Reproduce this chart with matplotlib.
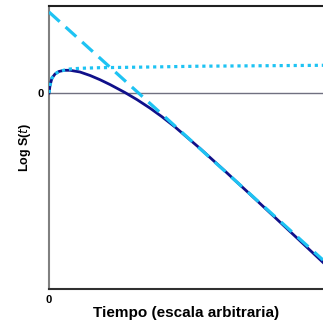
import matplotlib
matplotlib.use('Agg')
import matplotlib.pyplot as plt

# tiempo (arbitrary units) and log S(t) values
t_solid = [0.0, 0.04, 0.11, 0.22, 0.36, 0.55, 0.77, 1.13, 1.50, 1.86, 2.23, 2.77,
           3.21, 3.69, 4.12, 4.60, 5.51, 6.42, 7.34, 8.25, 9.16, 10.0]
logs_solid = [0, 8, 15, 19, 21.5, 22.7, 22.7, 21, 17.5, 13.3, 8.4, 0.5,
              -6.6, -15.2, -23.7, -34, -55.4, -78, -101.3, -124.5, -147.8, -169.4]

t_dotted = [0.0, 0.04, 0.11, 0.22, 0.36, 0.55, 0.77, 1.13, 1.86, 3.69, 5.51, 10.0]
logs_dotted = [0, 8, 15, 19, 21.5, 22.8, 24, 24.7, 25.3, 26, 26.8, 27.7]

t_dashed = [0.0, 10.0]
logs_dashed = [81, -167]

navy = '#10108a'
light = '#1ec3f3'

fig = plt.figure(figsize=(3.23, 3.22), dpi=100)
ax = fig.add_axes([49/323, 1 - 289/322, 1 - 49/323, 283/322])

ax.plot(t_solid, logs_solid, color=navy, lw=2.0, zorder=3)
ax.plot(t_dashed, logs_dashed, color=light, lw=2.3, dashes=(4.5, 2.5), zorder=4)
ax.plot(t_dotted, logs_dotted, color=light, lw=2.3, dashes=(1, 1.2), zorder=4)
ax.axhline(0, color='#707080', lw=1.0, zorder=2)

ax.set_xlim(0, 10)
ax.set_ylim(-196, 87)

ax.spines['right'].set_visible(False)
ax.spines['top'].set_color('#202020')
ax.spines['top'].set_linewidth(1.5)
ax.spines['left'].set_color('#808080')
ax.spines['left'].set_linewidth(1.5)
ax.spines['bottom'].set_color('#303030')
ax.spines['bottom'].set_linewidth(1.5)

ax.set_xticks([0])
ax.set_yticks([0])
ax.set_xticklabels(['0'])
ax.set_yticklabels(['0'])
ax.tick_params(length=0, labelsize=8, pad=4)
for lab in ax.get_xticklabels() + ax.get_yticklabels():
    lab.set_fontfamily('Liberation Sans')
    lab.set_fontweight('bold')

ax.set_xlabel('Tiempo (escala arbitraria)', fontfamily='Liberation Sans',
              fontweight='bold', fontsize=11, labelpad=1)
ax.set_ylabel(r'Log S($t$)', fontfamily='Liberation Sans',
              fontweight='bold', fontsize=9, labelpad=3)

fig.savefig('out.png', dpi=100)
